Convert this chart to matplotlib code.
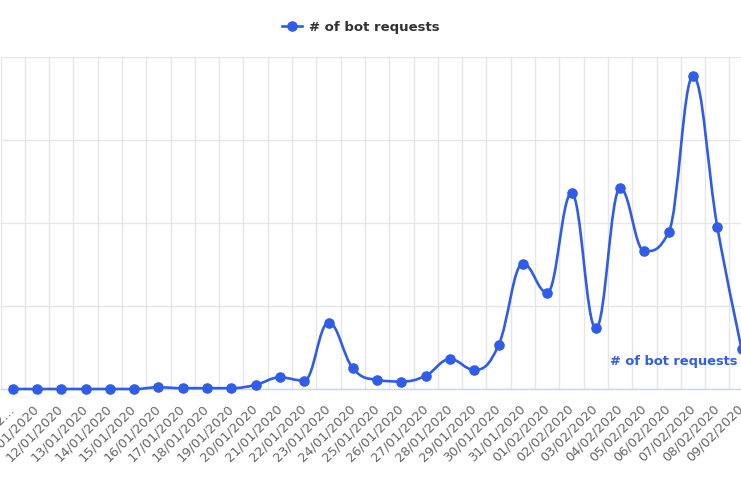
import matplotlib
matplotlib.use("Agg")
import matplotlib.pyplot as plt
from matplotlib.path import Path
from matplotlib.patches import PathPatch
from matplotlib.lines import Line2D

# data (y axis labels are cropped away, grid step taken as 100)
dates = ["10/01/2020", "11/01/2020", "12/01/2020", "13/01/2020", "14/01/2020",
         "15/01/2020", "16/01/2020", "17/01/2020", "18/01/2020", "19/01/2020",
         "20/01/2020", "21/01/2020", "22/01/2020", "23/01/2020", "24/01/2020",
         "25/01/2020", "26/01/2020", "27/01/2020", "28/01/2020", "29/01/2020",
         "30/01/2020", "31/01/2020", "01/02/2020", "02/02/2020", "03/02/2020",
         "04/02/2020", "05/02/2020", "06/02/2020", "07/02/2020", "08/02/2020",
         "09/02/2020"]
bot_requests = [0, 0, 0, 0, 0, 0, 2, 1, 1, 1,
                5, 14, 10, 80, 25, 11, 9, 16, 36, 23,
                53, 151, 116, 236, 73, 242, 166, 189, 377, 195,
                48]
series_name = "# of bot requests"
y_ticks = [0, 100, 200, 300, 400]

blue = "#2f5ce8"


def spline_path(xs, ys, smoothing=1.5):
    # bezier spline like the one highcharts draws
    n = len(xs)
    left = [None] * n
    right = [None] * n
    for i in range(n):
        if i == 0 or i == n - 1:
            left[i] = right[i] = (xs[i], ys[i])
            continue
        px, py = xs[i], ys[i]
        lx, ly = xs[i - 1], ys[i - 1]
        nx, ny = xs[i + 1], ys[i + 1]
        d = smoothing + 1
        lcx, lcy = (smoothing * px + lx) / d, (smoothing * py + ly) / d
        rcx, rcy = (smoothing * px + nx) / d, (smoothing * py + ny) / d
        if rcx != lcx:
            corr = ((rcy - lcy) * (rcx - px)) / (rcx - lcx) + py - rcy
            lcy += corr
            rcy += corr
        if lcy > ly and lcy > py:
            lcy = max(ly, py)
            rcy = 2 * py - lcy
        elif lcy < ly and lcy < py:
            lcy = min(ly, py)
            rcy = 2 * py - lcy
        if rcy > ny and rcy > py:
            rcy = max(ny, py)
            lcy = 2 * py - rcy
        elif rcy < ny and rcy < py:
            rcy = min(ny, py)
            lcy = 2 * py - rcy
        left[i] = (lcx, lcy)
        right[i] = (rcx, rcy)
    verts = [(xs[0], ys[0])]
    codes = [Path.MOVETO]
    for i in range(1, n):
        verts += [right[i - 1], left[i], (xs[i], ys[i])]
        codes += [Path.CURVE4] * 3
    return Path(verts, codes)


W, H = 741, 486
fig = plt.figure(figsize=(W / 100, H / 100), dpi=100)

# plot area runs past the cropped edges of the picture
x_left, px_per_cat = 0.5, 24.3
y_bottom, y_top = 389, 57
ax = fig.add_axes([x_left / W, (H - y_bottom) / H,
                   px_per_cat * len(dates) / W, (y_bottom - y_top) / H])

xs = list(range(len(dates)))
ax.set_xlim(-0.5, len(dates) - 0.5)
ax.set_ylim(y_ticks[0], y_ticks[-1])

ax.add_patch(PathPatch(spline_path(xs, bot_requests), fill=False, edgecolor=blue,
                       lw=1.9, clip_on=False, zorder=3, capstyle="round", joinstyle="round"))
ax.plot(xs, bot_requests, ls="none", marker="o", ms=6.6, color=blue, clip_on=False, zorder=4)

# grid
ax.set_yticks(y_ticks)
ax.set_xticks([x + 0.5 for x in xs[:-1]] + [-0.5], minor=True)
ax.grid(True, axis="y", color="#e6e6e6", lw=1)
ax.grid(True, axis="x", which="minor", color="#e6e6e6", lw=1)
ax.tick_params(axis="y", length=0, labelleft=False)
ax.tick_params(axis="x", which="both", length=0)

ax.set_xticks(xs)
tick_labels = ["10/01/2…"] + dates[1:]
ax.set_xticklabels(tick_labels, rotation=45, ha="right", va="center",
                   rotation_mode="anchor", fontsize=9.3, color="#666666")
ax.tick_params(axis="x", pad=13)

for side in ["top", "right", "left"]:
    ax.spines[side].set_visible(False)
ax.spines["bottom"].set_color("#ccd6eb")
ax.spines["bottom"].set_linewidth(1)
ax.set_axisbelow(True)

# series label next to the last point
ax.annotate(series_name, xy=(xs[-1], bot_requests[-1]), xytext=(-3, -9),
            textcoords="offset points", ha="right", va="center",
            fontsize=9.4, fontweight="bold", color=blue, zorder=5)

# legend
handle = Line2D([], [], color=blue, lw=1.9, marker="o", ms=6.6)
fig.legend(handles=[handle], labels=[series_name], loc="center",
           bbox_to_anchor=(361 / W, 1 - 27 / H), frameon=False, handlelength=1.5,
           handletextpad=0.5, prop={"size": 9.5, "weight": "bold"}, labelcolor="#333333")

fig.savefig("out.png", dpi=100)
